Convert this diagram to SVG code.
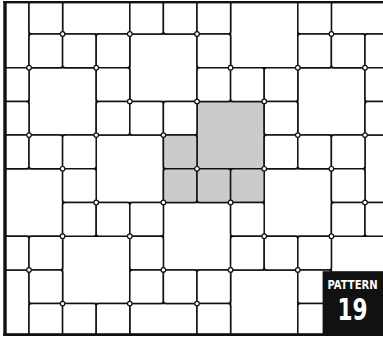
<svg xmlns="http://www.w3.org/2000/svg" width="383" height="339" viewBox="0 0 383 339">
<style>
.t{fill:#fff;stroke:#111;stroke-width:1.5;rx:2.5px;ry:2.5px}
.g{fill:#cbcbcb}
.j{fill:#fff;stroke:#111;stroke-width:1.2}
.frame{fill:#111}
.lbl{fill:#fff;font-family:"Liberation Sans Narrow","DejaVu Sans Condensed","Liberation Sans",sans-serif;font-weight:bold;text-anchor:middle}
</style>
<defs>
<clipPath id="area"><rect x="5" y="2" width="378" height="332"/></clipPath>
</defs>
<rect x="0" y="0" width="383" height="339" fill="#fff"/>
<g id="tiles" clip-path="url(#area)">
<g id="large-tiles">
<rect class="t" x="-38.2" y="0.3" width="67.2" height="67.4"/>
<rect class="t" x="62.6" y="-33.4" width="67.2" height="67.4"/>
<rect class="t" x="331.4" y="-33.4" width="67.2" height="67.4"/>
<rect class="t" x="230.6" y="0.3" width="67.2" height="67.4"/>
<rect class="t" x="129.8" y="34" width="67.2" height="67.4"/>
<rect class="t" x="29" y="67.7" width="67.2" height="67.4"/>
<rect class="t" x="297.8" y="67.7" width="67.2" height="67.4"/>
<rect class="t g" x="197" y="101.4" width="67.2" height="67.4"/>
<rect class="t" x="96.2" y="135.1" width="67.2" height="67.4"/>
<rect class="t" x="365" y="135.1" width="67.2" height="67.4"/>
<rect class="t" x="-4.6" y="168.8" width="67.2" height="67.4"/>
<rect class="t" x="264.2" y="168.8" width="67.2" height="67.4"/>
<rect class="t" x="163.4" y="202.5" width="67.2" height="67.4"/>
<rect class="t" x="62.6" y="236.2" width="67.2" height="67.4"/>
<rect class="t" x="331.4" y="236.2" width="67.2" height="67.4"/>
<rect class="t" x="-38.2" y="269.9" width="67.2" height="67.4"/>
<rect class="t" x="230.6" y="269.9" width="67.2" height="67.4"/>
<rect class="t" x="129.8" y="303.6" width="67.2" height="67.4"/>
</g>
<g id="small-tiles">
<rect class="t" x="29" y="0.3" width="33.6" height="33.7"/>
<rect class="t" x="129.8" y="0.3" width="33.6" height="33.7"/>
<rect class="t" x="163.4" y="0.3" width="33.6" height="33.7"/>
<rect class="t" x="197" y="0.3" width="33.6" height="33.7"/>
<rect class="t" x="297.8" y="0.3" width="33.6" height="33.7"/>

<rect class="t" x="29" y="34" width="33.6" height="33.7"/>
<rect class="t" x="62.6" y="34" width="33.6" height="33.7"/>
<rect class="t" x="96.2" y="34" width="33.6" height="33.7"/>
<rect class="t" x="197" y="34" width="33.6" height="33.7"/>
<rect class="t" x="297.8" y="34" width="33.6" height="33.7"/>
<rect class="t" x="331.4" y="34" width="33.6" height="33.7"/>
<rect class="t" x="365" y="34" width="33.6" height="33.7"/>

<rect class="t" x="-4.6" y="67.7" width="33.6" height="33.7"/>
<rect class="t" x="96.2" y="67.7" width="33.6" height="33.7"/>
<rect class="t" x="197" y="67.7" width="33.6" height="33.7"/>
<rect class="t" x="230.6" y="67.7" width="33.6" height="33.7"/>
<rect class="t" x="264.2" y="67.7" width="33.6" height="33.7"/>
<rect class="t" x="365" y="67.7" width="33.6" height="33.7"/>

<rect class="t" x="-4.6" y="101.4" width="33.6" height="33.7"/>
<rect class="t" x="96.2" y="101.4" width="33.6" height="33.7"/>
<rect class="t" x="129.8" y="101.4" width="33.6" height="33.7"/>
<rect class="t" x="163.4" y="101.4" width="33.6" height="33.7"/>
<rect class="t" x="264.2" y="101.4" width="33.6" height="33.7"/>
<rect class="t" x="365" y="101.4" width="33.6" height="33.7"/>

<rect class="t" x="-4.6" y="135.1" width="33.6" height="33.7"/>
<rect class="t" x="29" y="135.1" width="33.6" height="33.7"/>
<rect class="t" x="62.6" y="135.1" width="33.6" height="33.7"/>
<rect class="t g" x="163.4" y="135.1" width="33.6" height="33.7"/>
<rect class="t" x="264.2" y="135.1" width="33.6" height="33.7"/>
<rect class="t" x="297.8" y="135.1" width="33.6" height="33.7"/>
<rect class="t" x="331.4" y="135.1" width="33.6" height="33.7"/>

<rect class="t" x="62.6" y="168.8" width="33.6" height="33.7"/>
<rect class="t g" x="163.4" y="168.8" width="33.6" height="33.7"/>
<rect class="t g" x="197" y="168.8" width="33.6" height="33.7"/>
<rect class="t g" x="230.6" y="168.8" width="33.6" height="33.7"/>
<rect class="t" x="331.4" y="168.8" width="33.6" height="33.7"/>

<rect class="t" x="62.6" y="202.5" width="33.6" height="33.7"/>
<rect class="t" x="96.2" y="202.5" width="33.6" height="33.7"/>
<rect class="t" x="129.8" y="202.5" width="33.6" height="33.7"/>
<rect class="t" x="230.6" y="202.5" width="33.6" height="33.7"/>
<rect class="t" x="331.4" y="202.5" width="33.6" height="33.7"/>
<rect class="t" x="365" y="202.5" width="33.6" height="33.7"/>

<rect class="t" x="-4.6" y="236.2" width="33.6" height="33.7"/>
<rect class="t" x="29" y="236.2" width="33.6" height="33.7"/>
<rect class="t" x="129.8" y="236.2" width="33.6" height="33.7"/>
<rect class="t" x="230.6" y="236.2" width="33.6" height="33.7"/>
<rect class="t" x="264.2" y="236.2" width="33.6" height="33.7"/>
<rect class="t" x="297.8" y="236.2" width="33.6" height="33.7"/>

<rect class="t" x="29" y="269.9" width="33.6" height="33.7"/>
<rect class="t" x="129.8" y="269.9" width="33.6" height="33.7"/>
<rect class="t" x="163.4" y="269.9" width="33.6" height="33.7"/>
<rect class="t" x="197" y="269.9" width="33.6" height="33.7"/>
<rect class="t" x="297.8" y="269.9" width="33.6" height="33.7"/>

<rect class="t" x="29" y="303.6" width="33.6" height="33.7"/>
<rect class="t" x="62.6" y="303.6" width="33.6" height="33.7"/>
<rect class="t" x="96.2" y="303.6" width="33.6" height="33.7"/>
<rect class="t" x="197" y="303.6" width="33.6" height="33.7"/>
<rect class="t" x="297.8" y="303.6" width="33.6" height="33.7"/>
<rect class="t" x="331.4" y="303.6" width="33.6" height="33.7"/>
<rect class="t" x="365" y="303.6" width="33.6" height="33.7"/>
</g>
<g id="joints">
<circle class="j" cx="62.6" cy="34" r="2.3"/><circle class="j" cx="129.8" cy="34" r="2.3"/><circle class="j" cx="197" cy="34" r="2.3"/><circle class="j" cx="331.4" cy="34" r="2.3"/>
<circle class="j" cx="29" cy="67.7" r="2.3"/><circle class="j" cx="96.2" cy="67.7" r="2.3"/><circle class="j" cx="230.6" cy="67.7" r="2.3"/><circle class="j" cx="297.8" cy="67.7" r="2.3"/><circle class="j" cx="365" cy="67.7" r="2.3"/>
<circle class="j" cx="129.8" cy="101.4" r="2.3"/><circle class="j" cx="197" cy="101.4" r="2.3"/><circle class="j" cx="264.2" cy="101.4" r="2.3"/>
<circle class="j" cx="29" cy="135.1" r="2.3"/><circle class="j" cx="96.2" cy="135.1" r="2.3"/><circle class="j" cx="163.4" cy="135.1" r="2.3"/><circle class="j" cx="297.8" cy="135.1" r="2.3"/><circle class="j" cx="365" cy="135.1" r="2.3"/>
<circle class="j" cx="62.6" cy="168.8" r="2.3"/><circle class="j" cx="197" cy="168.8" r="2.3"/><circle class="j" cx="264.2" cy="168.8" r="2.3"/><circle class="j" cx="331.4" cy="168.8" r="2.3"/>
<circle class="j" cx="96.2" cy="202.5" r="2.3"/><circle class="j" cx="163.4" cy="202.5" r="2.3"/><circle class="j" cx="230.6" cy="202.5" r="2.3"/><circle class="j" cx="365" cy="202.5" r="2.3"/>
<circle class="j" cx="62.6" cy="236.2" r="2.3"/><circle class="j" cx="129.8" cy="236.2" r="2.3"/><circle class="j" cx="264.2" cy="236.2" r="2.3"/><circle class="j" cx="331.4" cy="236.2" r="2.3"/>
<circle class="j" cx="29" cy="269.9" r="2.3"/><circle class="j" cx="163.4" cy="269.9" r="2.3"/><circle class="j" cx="230.6" cy="269.9" r="2.3"/><circle class="j" cx="297.8" cy="269.9" r="2.3"/>
<circle class="j" cx="62.6" cy="303.6" r="2.3"/><circle class="j" cx="129.8" cy="303.6" r="2.3"/><circle class="j" cx="197" cy="303.6" r="2.3"/>
</g>
</g>
<g id="frame">
<rect class="frame" x="3.3" y="1" width="379.7" height="2.4"/>
<rect class="frame" x="3.3" y="1" width="3.4" height="335"/>
<rect class="frame" x="3.3" y="333.2" width="379.7" height="2.8"/>
</g>
<g id="label">
<rect class="frame" x="322.6" y="271.2" width="60.4" height="64.8"/>
<text class="lbl" transform="translate(352.6 289) scale(0.86 1)" font-size="13">PATTERN</text>
<text class="lbl" transform="translate(352.4 320.3) scale(0.8 1)" font-size="30">19</text>
</g>
</svg>
